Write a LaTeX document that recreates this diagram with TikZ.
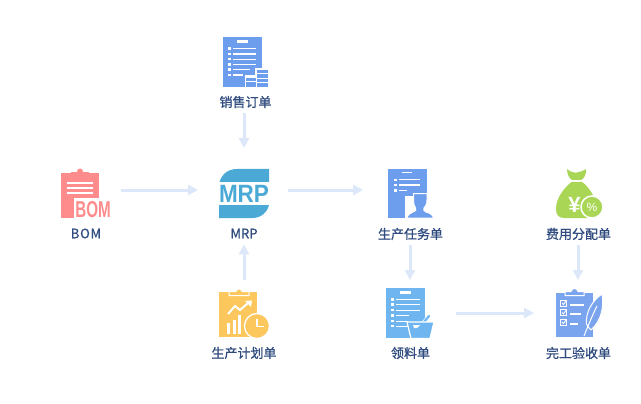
\documentclass[tikz,border=0pt]{standalone}
\usepackage{fontspec}
\setmainfont{Noto Sans CJK SC}[FakeBold=0.7]
\newfontfamily\iconfont{Liberation Sans}[BoldFont={Liberation Sans Bold}]
\usetikzlibrary{arrows.meta}
\definecolor{labelblue}{HTML}{2F4B7F}
\definecolor{flowblue}{HTML}{DCE7F9}
\definecolor{docblue}{HTML}{6D9EEE}
\definecolor{skyblue}{HTML}{6FB6F0}
\definecolor{bompink}{HTML}{FF8C8C}
\definecolor{mrpblue}{HTML}{4BA9D6}
\definecolor{gold}{HTML}{FCC75C}
\definecolor{leaf}{HTML}{A9D655}
\definecolor{penblue}{HTML}{7BA4EE}
\tikzset{
  iconbox/.style={inner sep=0pt,outer sep=0pt,minimum width=50pt,minimum height=49pt},
  caption/.style={text=labelblue,font=\fontsize{13}{15}\selectfont,inner sep=1pt},
  flow/.style={draw=flowblue,line width=3pt,-{Triangle[length=10pt,width=10pt]}}
}
\begin{document}
\begin{tikzpicture}[x=1pt,y=-1pt]
\useasboundingbox (0,0) rectangle (641,404);
\fill[white] (0,0) rectangle (641,404);

% ---------- icon anchors and captions
\node[iconbox] (sales) at (245,62) {};
\node[iconbox] (bom) at (85.5,193.5) {};
\node[iconbox] (mrp) at (244,193.5) {};
\node[iconbox] (task) at (410,193.5) {};
\node[iconbox] (fee) at (578,193.5) {};
\node[iconbox] (plan) at (244,312.5) {};
\node[iconbox] (pick) at (410,312.5) {};
\node[iconbox] (done) at (578,312.5) {};
\node[caption] (salesL) at (245.5,102) {销售订单};
\node[caption] (bomL) at (86,233.5) {\addfontfeature{LetterSpace=6}BOM};
\node[caption] (mrpL) at (244,233.5) {MRP};
\node[caption] (taskL) at (410.5,234) {生产任务单};
\node[caption] (feeL) at (578.5,234) {费用分配单};
\node[caption] (planL) at (244,353) {生产计划单};
\node[caption] (pickL) at (410.5,353) {领料单};
\node[caption] (doneL) at (578.5,353) {完工验收单};

% ---------- connectors
\draw[flow] (salesL.south -| mrp) ++(0,4) -- ([yshift=21pt]mrp.north);
\draw[flow] ([shift={(10,-3.5)}]bom.east) -- ([shift={(-21,-3.5)}]mrp.west);
\draw[flow] ([shift={(19,-3.5)}]mrp.east) -- ([shift={(-22,-3.5)}]task.west);
\draw[flow] (plan.north) ++(0,-8) -- ([yshift=-5pt]mrpL.south);
\draw[flow] (taskL.south -| task) ++(0,4) -- ([yshift=8pt]pick.north);
\draw[flow] (feeL.south -| fee) ++(0,4) -- ([yshift=8pt]done.north);
\draw[flow] ([shift={(21,0.5)}]pick.east) -- ([shift={(-19,0.5)}]done.west);

% ---------- sales order icon
\fill[docblue] (223,37) rectangle (262,87);
\fill[white] (237,40) rectangle (248,43);
\foreach \y/\e in {48.7/256,54/256,59.2/256,64.5/256,69.7/250,75/243}{
  \fill[white] (228,\y-1.2) rectangle (231,\y+1.2);
  \draw[white,line width=1.1pt] (233,\y) -- (\e,\y);
}
\fill[white] (244.5,75.5) rectangle (255,87);
\fill[white] (255,68) rectangle (268.5,87);
\fill[docblue] (246,78) rectangle (256,81);
\fill[docblue] (246,82) rectangle (256,87);
\fill[docblue] (257,70) rectangle (268,73.5);
\fill[docblue] (257,74.5) rectangle (268,78);
\fill[docblue] (257,79) rectangle (268,82.5);
\fill[docblue] (257,83.5) rectangle (268,87);

% ---------- BOM icon
\fill[bompink] (61,173) rectangle (99,218);
\fill[bompink] (71,172) rectangle (89,175.5);
\fill[bompink] (80,171.5) circle[radius=3];
\foreach \y in {183,188,193}{\draw[white,line width=1.2pt] (67,\y) -- (93,\y);}
\fill[white] (74,198) rectangle (111,219);
\node[inner sep=0pt,text=bompink,xscale=.66,font=\iconfont\bfseries\fontsize{23}{23}\selectfont] (bomT) at (93,209.5) {BOM};

% ---------- MRP icon
\fill[mrpblue] (219.5,182) .. controls (222,174) and (228,169) .. (237,169) -- (269,169) -- (269,182) -- cycle;
\fill[mrpblue] (219,205) -- (269,205) .. controls (267,213) and (261,218) .. (252,218) -- (219,218) -- cycle;
\node[inner sep=0pt,text=mrpblue,xscale=.9,font=\iconfont\bfseries\fontsize{25}{25}\selectfont] (mrpT) at (244,193.5) {MRP};

% ---------- production task icon
\fill[docblue] (388,169) rectangle (426.5,218);
\draw[white,line width=1pt] (402,172.3) -- (412,172.3);
\foreach \y/\e in {180/420,185/420,190.5/407}{
  \fill[white] (394,\y-1.2) rectangle (396.5,\y+1.2);
  \draw[white,line width=1pt] (399,\y) -- (\e,\y);
}
\fill[white] (405,196) rectangle (435,219);
\fill[white] (414,193) rectangle (427,200);
\fill[docblue,draw=white,line width=1pt]
  (413.5,193.5) -- (427,193.5) -- (427,200)
  .. controls (427,204) and (425.5,207) .. (424,208)
  .. controls (423,210) and (424,211) .. (426,212)
  .. controls (430,213) and (433,215) .. (433.5,218)
  -- (406.5,218) .. controls (407.5,215) and (410,213) .. (413,212)
  .. controls (416,211) and (416.5,209.5) .. (415.5,208)
  .. controls (414,206) and (413.5,203) .. (413.5,200) -- cycle;

% ---------- fee icon
\fill[leaf] (567,169) .. controls (570,172) and (575,173) .. (577,172.5)
  .. controls (580,172) and (583,171) .. (586,169)
  .. controls (586.5,174) and (584,179) .. (581,180) -- (572,180)
  .. controls (569,178) and (567,174) .. (567,169) -- cycle;
\fill[leaf] (571.5,182) -- (582,182)
  .. controls (589,187) and (596,197) .. (596,208)
  .. controls (596,214) and (593,218) .. (588,218) -- (564,218)
  .. controls (558,218) and (556,214) .. (556,209)
  .. controls (556,198) and (564,188) .. (571.5,182) -- cycle;
\node[inner sep=0pt,text=white,font=\iconfont\bfseries\fontsize{22}{22}\selectfont] (yen) at (574.5,205) {¥};
\fill[leaf,draw=white,line width=1.5pt] (592,207) circle[radius=11];
\node[inner sep=0pt,text=white,font=\iconfont\fontsize{12}{12}\selectfont] (pct) at (592,207.5) {\%};

% ---------- production plan icon
\fill[gold] (219,292) rectangle (257,337);
\fill[gold,draw=white,line width=1pt] (229,295.5) -- (229,291.5) -- (236,291.5)
  .. controls (237,288) and (241,288) .. (242,291.5) -- (249,291.5) -- (249,295.5) -- cycle;
\fill[white] (227,323) rectangle (230,334);
\fill[white] (233,320) rectangle (236,334);
\fill[white] (238,315) rectangle (241,334);
\draw[white,line width=2pt] (228,314) -- (235,306) -- (240,310) -- (248,303);
\fill[white] (245,301) -- (252,300.5) -- (251,307) -- cycle;
\fill[gold,draw=white,line width=1.3pt] (257,326) circle[radius=12.5];
\draw[white,line width=1.2pt] (257,318.5) -- (257,326.5) -- (264,326.5);

% ---------- picking list icon
\fill[skyblue] (386,288) rectangle (425,338);
\fill[white] (400,291) rectangle (411,293.5);
\foreach \y/\e in {299.5/420,304.5/420,310/420,315.5/409,321/408,326/408}{
  \fill[white] (391,\y-1.1) rectangle (393.5,\y+1.1);
  \draw[white,line width=1pt] (396,\y) -- (\e,\y);
}
\draw[white,line width=3.6pt] (419,328) -- (429,316);
\draw[skyblue,line width=2.2pt,line cap=round] (419,328) -- (429,316);
\fill[skyblue,draw=white,line width=1.2pt] (407,322) -- (434,322) -- (430,338.5) -- (411,338.5) -- cycle;
\draw[skyblue,line width=2.2pt] (420,323.5) -- (421,326);
\fill[white] (413,325) -- (420,325) -- (417,328) -- (414,328) -- cycle;

% ---------- completion check icon
\fill[penblue] (556,293) rectangle (593,337);
\fill[penblue,draw=white,line width=1pt] (565,295.5) -- (565,291.5) -- (571,291.5)
  .. controls (572,287.5) and (577,287.5) .. (578,291.5) -- (584,291.5) -- (584,295.5) -- cycle;
\foreach \y in {303,312.5,322}{
  \draw[white,line width=.9pt] (560.5,\y-3) rectangle (566.5,\y+3);
  \draw[white,line width=.9pt] (562,\y) -- (563.5,\y+1.5) -- (566,\y-2);
}
\foreach \y/\e in {305/584,314/581,324/578}{\draw[white,line width=1.2pt] (570,\y) -- (\e,\y);}
\fill[penblue,draw=white,line width=1pt] (602,294)
  .. controls (604,306) and (602,320) .. (591,330)
  .. controls (589,328) and (587,326) .. (586.5,324)
  .. controls (585.5,312) and (592,301) .. (602,294) -- cycle;
\draw[white,line width=1pt] (597,306) .. controls (592,316) and (588,326) .. (584,336);
\end{tikzpicture}
\end{document}
